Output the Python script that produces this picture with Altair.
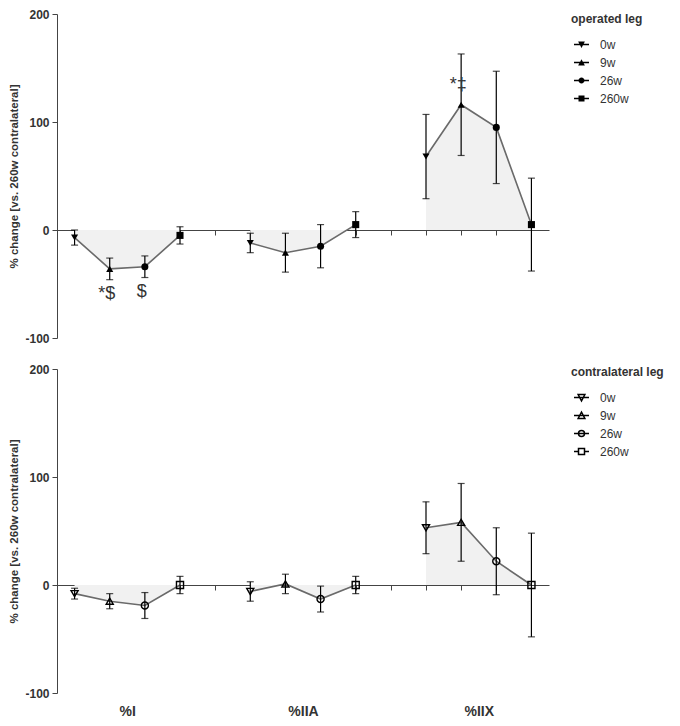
import altair as alt
import pandas as pd

FONT = "Liberation Sans"

categories = ["%I", "%IIA", "%IIX"]
times = ["0w", "9w", "26w", "260w"]

# operated leg: mean % change and error bar half-length, per time point
op_values = {"%I": [-7, -36, -34, -5], "%IIA": [-12, -21, -15, 5], "%IIX": [68, 116, 95, 5]}
op_errors = {"%I": [7, 10, 10, 8], "%IIA": [9, 18, 20, 12], "%IIX": [39, 47, 52, 43]}

# contralateral leg
co_values = {"%I": [-8, -15, -19, 0], "%IIA": [-6, 1, -13, 0], "%IIX": [53, 58, 22, 0]}
co_errors = {"%I": [5, 7, 12, 8], "%IIA": [9, 9, 12, 8], "%IIX": [24, 36, 31, 48]}

# significance annotations (panel, category, time, text, placement)
anno_panel = ["op", "op", "op"]
anno_category = ["%I", "%I", "%IIX"]
anno_time = ["9w", "26w", "9w"]
anno_text = ["*$", "$", "*\u2021"]
anno_place = ["below", "below", "above"]

y_ticks = [-100, 0, 100, 200]

rows = []
for pname, vals, errs in [("op", op_values, op_errors), ("co", co_values, co_errors)]:
    for ci, c in enumerate(categories):
        for ti, t in enumerate(times):
            v = vals[c][ti]
            e = errs[c][ti]
            a_txt, a_pos = "", ""
            for k in range(len(anno_text)):
                if anno_panel[k] == pname and anno_category[k] == c and anno_time[k] == t:
                    a_txt, a_pos = anno_text[k], anno_place[k]
            rows.append(dict(panel=pname, category=c, time=t, x=ci * 5 + ti + 1,
                             value=v, lo=v - e, hi=v + e, anno=a_txt, anno_pos=a_pos))
df = pd.DataFrame(rows)

std_shapes = ["triangle-down", "triangle-up", "circle", "square"]
# legend glyphs: marker with a short line through it
BAR = "M-1,-0.09H1V0.09H-1Z"
legend_paths_filled = [
    BAR + "M-0.45,-0.4H0.45L0,0.45Z",
    BAR + "M-0.45,0.4L0,-0.45L0.45,0.4Z",
    BAR + "M0.4,0A0.4,0.4,0,1,1,-0.4,0A0.4,0.4,0,1,1,0.4,0Z",
    BAR + "M-0.4,-0.4H0.4V0.4H-0.4Z",
]
legend_paths_open = [
    "M-1,0H1M-0.45,-0.4H0.45L0,0.45Z",
    "M-1,0H1M-0.45,0.4H0.45L0,-0.45Z",
    "M-1,0H-0.4A0.4,0.4,0,1,1,0.4,0A0.4,0.4,0,1,1,-0.4,0H1",
    "M-1,0H-0.4V-0.4H0.4V0.4H-0.4V0M0.4,0H1",
]

W = 492
H = 324
YMIN, YMAX = -100, 200
zero_offset = -(H * (0 - YMIN) / (YMAX - YMIN))

AX_COL = "#444"
TXT_COL = "#333"


def panel(pname, legend_title, filled, show_cats, legend_y):
    d = df[df.panel == pname]
    base = alt.Chart(d)
    xscale = alt.Scale(domain=[0.5, 14.5], nice=False, zero=False)
    yscale = alt.Scale(domain=[YMIN, YMAX], nice=False, zero=False)
    yaxis = alt.Axis(values=y_ticks, title="% change [vs. 260w contralateral]", grid=False,
                     labelExpr="'' + datum.value",
                     tickSize=5, labelPadding=3, labelFontWeight="bold", labelFontSize=12,
                     labelColor=TXT_COL, titleFontSize=11.5, titleFontWeight="bold",
                     titleColor=TXT_COL, titlePadding=5, domainColor=AX_COL, tickColor=AX_COL,
                     labelFont=FONT, titleFont=FONT)
    zero_axis = alt.Axis(orient="bottom", offset=zero_offset, values=list(range(1, 15)),
                         labels=False, title=None, grid=False, tickSize=5,
                         domainColor=AX_COL, tickColor=AX_COL)
    if show_cats:
        cat_axis = alt.Axis(orient="bottom", values=[2.5, 7.5, 12.5],
                            labelExpr="datum.value < 5 ? '%I' : datum.value < 10 ? '%IIA' : '%IIX'",
                            labels=True, title=None, grid=False, domain=False, ticks=False,
                            labelPadding=11, labelFontSize=14, labelFontWeight="bold",
                            labelColor=TXT_COL, labelFont=FONT)
    else:
        cat_axis = None

    y_val = alt.Y("value:Q", scale=yscale, axis=yaxis)

    area = base.mark_area(color="#f1f1f1", opacity=1).encode(
        x=alt.X("x:Q", scale=xscale, axis=zero_axis),
        y=y_val, y2=alt.datum(0), detail="category:N")
    line = base.mark_line(color="#6a6a6a", strokeWidth=1.6).encode(
        x=alt.X("x:Q", scale=xscale, axis=None), y=y_val, detail="category:N")
    rule = base.mark_rule(color="black", strokeWidth=1.2).encode(
        x=alt.X("x:Q", scale=xscale, axis=cat_axis),
        y=alt.Y("lo:Q", scale=yscale), y2="hi:Q")
    cap_lo = base.mark_tick(color="black", orient="horizontal", size=7, thickness=1.2).encode(
        x=alt.X("x:Q", scale=xscale, axis=None), y=alt.Y("lo:Q", scale=yscale))
    cap_hi = base.mark_tick(color="black", orient="horizontal", size=7, thickness=1.2).encode(
        x=alt.X("x:Q", scale=xscale, axis=None), y=alt.Y("hi:Q", scale=yscale))
    pts = base.mark_point(filled=filled, color="black", size=50, strokeWidth=1.4, opacity=1).encode(
        x=alt.X("x:Q", scale=xscale, axis=None), y=y_val,
        shape=alt.Shape("time:N", scale=alt.Scale(domain=times, range=std_shapes), legend=None))
    txt_below = base.transform_filter("datum.anno_pos == 'below'").mark_text(
        dy=25, dx=-3, fontSize=18, color=TXT_COL, font=FONT, baseline="middle").encode(
        x=alt.X("x:Q", scale=xscale, axis=None), y=y_val, text="anno:N")
    txt_above = base.transform_filter("datum.anno_pos == 'above'").mark_text(
        dy=-20, dx=-3, fontSize=18, color=TXT_COL, font=FONT, baseline="middle").encode(
        x=alt.X("x:Q", scale=xscale, axis=None), y=y_val, text="anno:N")
    paths = legend_paths_filled if filled else legend_paths_open
    leg = base.transform_filter("false").mark_point(
        filled=filled, color="black", size=225, strokeWidth=1.3, opacity=1).encode(
        shape=alt.Shape("time:N", scale=alt.Scale(domain=times, range=paths),
                        legend=alt.Legend(title=legend_title, orient="none", legendX=514,
                                          legendY=legend_y, titleFontSize=12,
                                          titleFontWeight="bold", titleColor=TXT_COL,
                                          titleFont=FONT, labelFont=FONT, labelFontSize=12,
                                          labelColor=TXT_COL, titlePadding=10, rowPadding=3,
                                          symbolOffset=2, labelOffset=10, symbolSize=225)))
    ch = alt.layer(area, line, rule, cap_lo, cap_hi, pts, txt_below, txt_above, leg).resolve_scale(
        shape="independent").resolve_axis(x="independent").properties(width=W, height=H)
    return ch


top = panel("op", "operated leg", True, False, 0)
bottom = panel("co", "contralateral leg", False, True, -2)

chart = alt.vconcat(top, bottom, spacing=19).properties(padding=0).configure(
    font=FONT, view=alt.ViewConfig(stroke=None))

chart.save("out.html", embed_options={"renderer": "svg", "actions": False})
